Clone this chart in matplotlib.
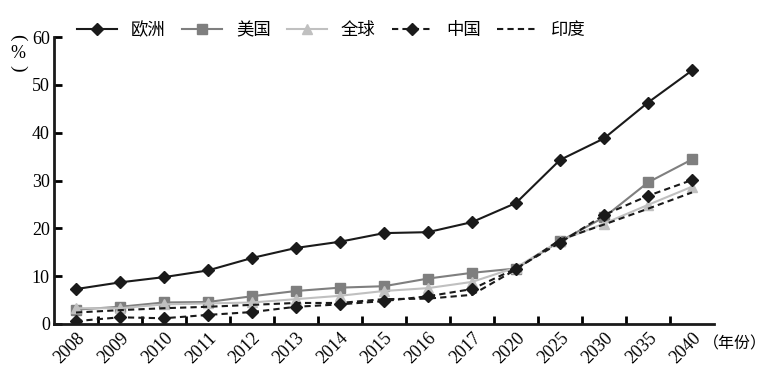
"""各地区占比变化折线图"""

import matplotlib
matplotlib.use("Agg")
import matplotlib.pyplot as plt
import numpy as np

# 数据
years = ['2008', '2009', '2010', '2011', '2012', '2013', '2014', '2015',
         '2016', '2017', '2020', '2025', '2030', '2035', '2040']
europe = [7.3, 8.7, 9.8, 11.2, 13.8, 15.9, 17.2, 19.0, 19.2, 21.3, 25.3, 34.3, 38.8, 46.3, 53.0]
usa = [3.0, 3.6, 4.5, 4.6, 5.8, 6.9, 7.6, 7.9, 9.5, 10.7, 11.6, 17.3, 22.3, 29.6, 34.4]
world = [3.3, 3.3, 4.1, 4.3, 4.5, 5.2, 5.9, 6.9, 7.5, 8.8, 11.8, 17.4, 21.0, 24.9, 28.7]
china = [0.6, 1.4, 1.2, 1.9, 2.5, 3.6, 4.1, 4.8, 5.8, 7.3, 11.6, 17.0, 22.8, 26.8, 30.1]
india = [2.4, 2.9, 3.3, 3.6, 4.0, 4.4, 4.4, 5.2, 5.3, 6.1, 11.4, 17.6, 20.8, 24.1, 27.5]
series_names = ['欧洲', '美国', '全球', '中国', '印度']

cjk = ['Noto Sans CJK SC', 'DejaVu Sans']
serif = ['Liberation Serif', 'DejaVu Serif']

fig = plt.figure(figsize=(7.72, 3.83), dpi=100)
ax = fig.add_axes([54 / 772, 1 - 324 / 383, 660 / 772, 287 / 383])

x = np.arange(len(years))
ax.plot(x, europe, color='#1a1a1a', lw=1.5, marker='D', markersize=6.5, label=series_names[0])
ax.plot(x, usa, color='#7f7f7f', lw=1.5, marker='s', markersize=7, label=series_names[1])
ax.plot(x, world, color='#c0c0c0', lw=1.5, marker='^', markersize=7, label=series_names[2])
ax.plot(x, china, color='#1a1a1a', lw=1.5, ls=(0, (3, 2)), marker='D', markersize=6.5,
        label=series_names[3])
ax.plot(x, india, color='#1a1a1a', lw=1.5, ls=(0, (3, 2)), label=series_names[4])

ax.set_xlim(-0.5, len(years) - 0.5)
ax.set_ylim(0, 60)
ax.set_yticks(range(0, 61, 10))

# x轴刻度在类别之间，标签在类别中心
ax.set_xticks(x[:-1] + 0.5)
ax.set_xticklabels([])
ax.set_xticks(x, minor=True)
ax.set_xticklabels(years, minor=True, rotation=45, ha='right', rotation_mode='anchor',
                   family=serif, fontsize=13)
ax.tick_params(axis='x', which='minor', length=0, pad=4)
ax.tick_params(axis='x', which='major', direction='in', length=6, width=2)
ax.tick_params(axis='y', direction='in', length=6, width=2, pad=3)
for lbl in ax.get_yticklabels():
    lbl.set_family(serif)
    lbl.set_fontsize(13)

for side in ['top', 'right']:
    ax.spines[side].set_visible(False)
for side in ['left', 'bottom']:
    ax.spines[side].set_linewidth(2)
    ax.spines[side].set_color('#1a1a1a')

# 坐标轴单位（竖排）
fig.text(18 / 772, 1 - 37 / 383, '(', family=serif, fontsize=14, rotation=-90,
         ha='center', va='center')
fig.text(18 / 772, 1 - 53 / 383, '%', family=serif, fontsize=13, ha='center', va='center')
fig.text(18 / 772, 1 - 68 / 383, ')', family=serif, fontsize=14, rotation=-90,
         ha='center', va='center')
fig.text(703 / 772, 1 - 344 / 383, '（年份）', family=cjk, fontsize=11.5, ha='left', va='center')

leg = fig.legend(loc='upper left', bbox_to_anchor=(70 / 772, 1 - 14 / 383), ncol=5,
                 frameon=False, prop={'family': cjk, 'size': 12.5},
                 handlelength=2.3, handletextpad=0.8, columnspacing=0.95, borderaxespad=0)

fig.savefig('out.png', dpi=100)
